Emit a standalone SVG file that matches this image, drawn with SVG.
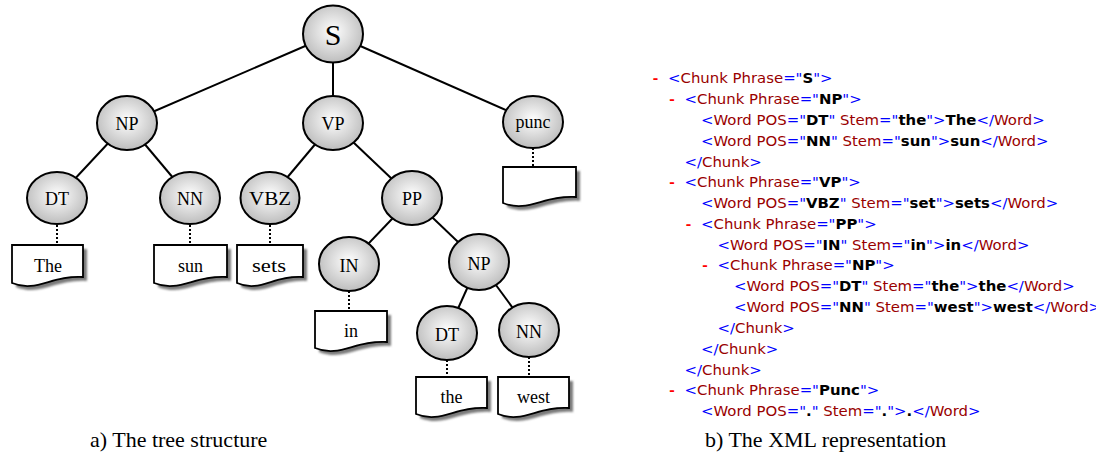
<svg xmlns="http://www.w3.org/2000/svg" width="1096" height="454" viewBox="0 0 1096 454">
<style>
.edge{stroke:#000;stroke-width:2;fill:none}
.dot{stroke:#000;stroke-width:2;stroke-dasharray:2 2;fill:none}
.node{fill:url(#g);stroke:#000;stroke-width:2}
.lbl{font-family:"Liberation Serif",serif;font-size:18px;fill:#000;text-anchor:middle}
.doc{fill:#fff;stroke:#000;stroke-width:1.8}
.shd{fill:#7a7a7a;filter:url(#blur)}
.cap{font-family:"Liberation Serif",serif;font-size:22px;fill:#000}
.x{font-family:"DejaVu Sans",Verdana,sans-serif;font-size:14.9px;fill:#990000}
.m{fill:#0000ff}
.b{fill:#000;font-weight:bold}
.mi{font-family:"Liberation Mono",monospace;font-weight:bold;fill:#ff0000;font-size:14.9px}
</style>
<defs>
<radialGradient id="g" cx="50%" cy="45%" r="55%">
<stop offset="0" stop-color="#ffffff"/>
<stop offset="1" stop-color="#bdbdbd"/>
</radialGradient>
<filter id="blur" x="-10%" y="-10%" width="120%" height="130%"><feGaussianBlur stdDeviation="1"/></filter>
</defs>

<g id="connectors">
<line class="edge" x1="333" y1="34" x2="127" y2="123"/>
<line class="edge" x1="333" y1="34" x2="333" y2="123"/>
<line class="edge" x1="333" y1="34" x2="533" y2="122"/>
<line class="edge" x1="127" y1="123" x2="57" y2="198"/>
<line class="edge" x1="127" y1="123" x2="190" y2="198"/>
<line class="edge" x1="333" y1="123" x2="270" y2="198"/>
<line class="edge" x1="333" y1="123" x2="412" y2="198"/>
<line class="edge" x1="412" y1="198" x2="349" y2="264"/>
<line class="edge" x1="412" y1="198" x2="479" y2="262"/>
<line class="edge" x1="479" y1="262" x2="447" y2="333"/>
<line class="edge" x1="479" y1="262" x2="529" y2="330"/>
<line class="dot" x1="57" y1="225" x2="57" y2="245"/>
<line class="dot" x1="190" y1="225" x2="190" y2="245"/>
<line class="dot" x1="270" y1="225" x2="270" y2="245"/>
<line class="dot" x1="533" y1="148" x2="533" y2="167"/>
<line class="dot" x1="349" y1="291" x2="349" y2="311"/>
<line class="dot" x1="447" y1="360" x2="447" y2="377"/>
<line class="dot" x1="529" y1="357" x2="529" y2="377"/>
</g>

<g id="n-S"><ellipse class="node" cx="333" cy="34" rx="30" ry="28.5"/><text class="lbl" x="333" y="45" style="font-size:30px">S</text></g>
<g id="n-NP"><ellipse class="node" cx="127" cy="123" rx="30" ry="27"/><text class="lbl" x="127" y="130">NP</text></g>
<g id="n-VP"><ellipse class="node" cx="333" cy="123" rx="30" ry="27"/><text class="lbl" x="333" y="130">VP</text></g>
<g id="n-punc"><ellipse class="node" cx="533" cy="122" rx="30" ry="26"/><text class="lbl" x="533" y="128">punc</text></g>
<g id="n-DT"><ellipse class="node" cx="57" cy="198" rx="30" ry="26"/><text class="lbl" x="57" y="205">DT</text></g>
<g id="n-NN"><ellipse class="node" cx="190" cy="198" rx="30" ry="26"/><text class="lbl" x="190" y="205">NN</text></g>
<g id="n-VBZ"><ellipse class="node" cx="270" cy="198" rx="29.5" ry="26"/><text class="lbl" x="270" y="205" textLength="42" lengthAdjust="spacingAndGlyphs">VBZ</text></g>
<g id="n-PP"><ellipse class="node" cx="412" cy="198" rx="30" ry="27"/><text class="lbl" x="412" y="205">PP</text></g>
<g id="n-IN"><ellipse class="node" cx="349" cy="264" rx="30" ry="27"/><text class="lbl" x="349" y="272">IN</text></g>
<g id="n-NP2"><ellipse class="node" cx="479" cy="262" rx="30" ry="28"/><text class="lbl" x="479" y="270">NP</text></g>
<g id="n-DT2"><ellipse class="node" cx="447" cy="333" rx="30" ry="27"/><text class="lbl" x="447" y="341">DT</text></g>
<g id="n-NN2"><ellipse class="node" cx="529" cy="330" rx="30" ry="27"/><text class="lbl" x="529" y="338">NN</text></g>

<g id="w-The"><path class="shd" transform="translate(4,4)" d="M12 245 H83 V277 C51.05 275 36.85 293 12 283 Z"/><path class="doc" d="M12 245 H83 V277 C51.05 275 36.85 293 12 283 Z"/><text class="lbl" x="48" y="272">The</text></g>
<g id="w-sun"><path class="shd" transform="translate(4,4)" d="M154 245 H227 V277 C194.15 275 179.55 293 154 283 Z"/><path class="doc" d="M154 245 H227 V277 C194.15 275 179.55 293 154 283 Z"/><text class="lbl" x="190.5" y="272">sun</text></g>
<g id="w-sets"><path class="shd" transform="translate(4,4)" d="M237 245 H303 V277 C273.3 275 260.1 293 237 283 Z"/><path class="doc" d="M237 245 H303 V277 C273.3 275 260.1 293 237 283 Z"/><text class="lbl" x="269" y="272" textLength="34" lengthAdjust="spacingAndGlyphs">sets</text></g>
<g id="w-punc"><path class="shd" transform="translate(4,4)" d="M503 167 H576 V197 C543.15 195 528.55 213 503 203 Z"/><path class="doc" d="M503 167 H576 V197 C543.15 195 528.55 213 503 203 Z"/></g>
<g id="w-in"><path class="shd" transform="translate(4,4)" d="M315 311 H387 V342 C354.6 340 340.2 358 315 348 Z"/><path class="doc" d="M315 311 H387 V342 C354.6 340 340.2 358 315 348 Z"/><text class="lbl" x="351" y="337">in</text></g>
<g id="w-the"><path class="shd" transform="translate(4,4)" d="M416 377 H487 V408 C455.05 406 440.85 424 416 414 Z"/><path class="doc" d="M416 377 H487 V408 C455.05 406 440.85 424 416 414 Z"/><text class="lbl" x="451.5" y="403">the</text></g>
<g id="w-west"><path class="shd" transform="translate(4,4)" d="M498 377 H569 V408 C537.05 406 522.85 424 498 414 Z"/><path class="doc" d="M498 377 H569 V408 C537.05 406 522.85 424 498 414 Z"/><text class="lbl" x="533.5" y="403">west</text></g>

<g id="xml">
<text class="mi" x="651" y="83">-</text>
<text class="x" x="668" y="83" xml:space="preserve"><tspan class="m">&lt;</tspan>Chunk Phrase<tspan class="m">="</tspan><tspan class="b">S</tspan><tspan class="m">"&gt;</tspan></text>
<text class="mi" x="667.5" y="104">-</text>
<text class="x" x="684.5" y="104" xml:space="preserve"><tspan class="m">&lt;</tspan>Chunk Phrase<tspan class="m">="</tspan><tspan class="b">NP</tspan><tspan class="m">"&gt;</tspan></text>
<text class="x" x="701" y="125" xml:space="preserve"><tspan class="m">&lt;</tspan>Word POS<tspan class="m">="</tspan><tspan class="b">DT</tspan><tspan class="m">"</tspan> Stem<tspan class="m">="</tspan><tspan class="b">the</tspan><tspan class="m">"&gt;</tspan><tspan class="b">The</tspan><tspan class="m">&lt;/</tspan>Word<tspan class="m">&gt;</tspan></text>
<text class="x" x="701" y="145.5" xml:space="preserve"><tspan class="m">&lt;</tspan>Word POS<tspan class="m">="</tspan><tspan class="b">NN</tspan><tspan class="m">"</tspan> Stem<tspan class="m">="</tspan><tspan class="b">sun</tspan><tspan class="m">"&gt;</tspan><tspan class="b">sun</tspan><tspan class="m">&lt;/</tspan>Word<tspan class="m">&gt;</tspan></text>
<text class="x" x="684.5" y="166.5" xml:space="preserve"><tspan class="m">&lt;/</tspan>Chunk<tspan class="m">&gt;</tspan></text>
<text class="mi" x="667.5" y="187">-</text>
<text class="x" x="684.5" y="187" xml:space="preserve"><tspan class="m">&lt;</tspan>Chunk Phrase<tspan class="m">="</tspan><tspan class="b">VP</tspan><tspan class="m">"&gt;</tspan></text>
<text class="x" x="701" y="208" xml:space="preserve"><tspan class="m">&lt;</tspan>Word POS<tspan class="m">="</tspan><tspan class="b">VBZ</tspan><tspan class="m">"</tspan> Stem<tspan class="m">="</tspan><tspan class="b">set</tspan><tspan class="m">"&gt;</tspan><tspan class="b">sets</tspan><tspan class="m">&lt;/</tspan>Word<tspan class="m">&gt;</tspan></text>
<text class="mi" x="684" y="228.5">-</text>
<text class="x" x="701" y="228.5" xml:space="preserve"><tspan class="m">&lt;</tspan>Chunk Phrase<tspan class="m">="</tspan><tspan class="b">PP</tspan><tspan class="m">"&gt;</tspan></text>
<text class="x" x="717.5" y="249.5" xml:space="preserve"><tspan class="m">&lt;</tspan>Word POS<tspan class="m">="</tspan><tspan class="b">IN</tspan><tspan class="m">"</tspan> Stem<tspan class="m">="</tspan><tspan class="b">in</tspan><tspan class="m">"&gt;</tspan><tspan class="b">in</tspan><tspan class="m">&lt;/</tspan>Word<tspan class="m">&gt;</tspan></text>
<text class="mi" x="700.5" y="270">-</text>
<text class="x" x="717.5" y="270" xml:space="preserve"><tspan class="m">&lt;</tspan>Chunk Phrase<tspan class="m">="</tspan><tspan class="b">NP</tspan><tspan class="m">"&gt;</tspan></text>
<text class="x" x="734" y="291" xml:space="preserve"><tspan class="m">&lt;</tspan>Word POS<tspan class="m">="</tspan><tspan class="b">DT</tspan><tspan class="m">"</tspan> Stem<tspan class="m">="</tspan><tspan class="b">the</tspan><tspan class="m">"&gt;</tspan><tspan class="b">the</tspan><tspan class="m">&lt;/</tspan>Word<tspan class="m">&gt;</tspan></text>
<text class="x" x="734" y="312" xml:space="preserve"><tspan class="m">&lt;</tspan>Word POS<tspan class="m">="</tspan><tspan class="b">NN</tspan><tspan class="m">"</tspan> Stem<tspan class="m">="</tspan><tspan class="b">west</tspan><tspan class="m">"&gt;</tspan><tspan class="b">west</tspan><tspan class="m">&lt;/</tspan>Word<tspan class="m">&gt;</tspan></text>
<text class="x" x="717.5" y="333" xml:space="preserve"><tspan class="m">&lt;/</tspan>Chunk<tspan class="m">&gt;</tspan></text>
<text class="x" x="701" y="353.5" xml:space="preserve"><tspan class="m">&lt;/</tspan>Chunk<tspan class="m">&gt;</tspan></text>
<text class="x" x="684.5" y="374.5" xml:space="preserve"><tspan class="m">&lt;/</tspan>Chunk<tspan class="m">&gt;</tspan></text>
<text class="mi" x="667.5" y="395">-</text>
<text class="x" x="684.5" y="395" xml:space="preserve"><tspan class="m">&lt;</tspan>Chunk Phrase<tspan class="m">="</tspan><tspan class="b">Punc</tspan><tspan class="m">"&gt;</tspan></text>
<text class="x" x="701" y="416" xml:space="preserve"><tspan class="m">&lt;</tspan>Word POS<tspan class="m">="</tspan><tspan class="b">.</tspan><tspan class="m">"</tspan> Stem<tspan class="m">="</tspan><tspan class="b">.</tspan><tspan class="m">"&gt;</tspan><tspan class="b">.</tspan><tspan class="m">&lt;/</tspan>Word<tspan class="m">&gt;</tspan></text>
</g>

<g id="captions">
<text class="cap" x="90" y="447">a) The tree structure</text>
<text class="cap" x="705" y="447">b) The XML representation</text>
</g>
</svg>
